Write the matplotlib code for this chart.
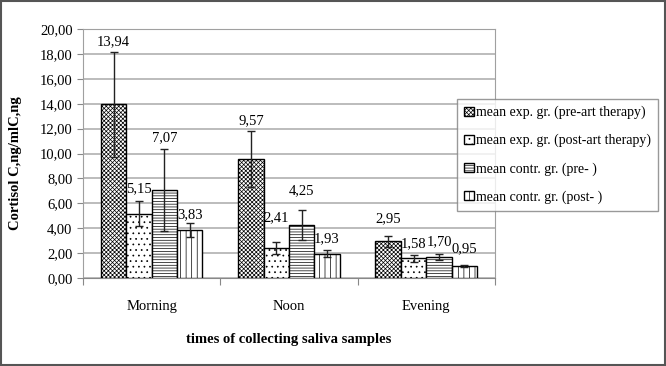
import numpy as np
import matplotlib.pyplot as plt

# Data
times = ['Morning', 'Noon', 'Evening']
series_names = ['mean exp. gr. (pre-art therapy)',
                'mean exp. gr. (post-art therapy)',
                'mean contr. gr. (pre- )',
                'mean contr. gr. (post- )']
exp_pre = [13.94, 9.57, 2.95]
exp_post = [5.15, 2.41, 1.58]
contr_pre = [7.07, 4.25, 1.70]
contr_post = [3.83, 1.93, 0.95]
err_exp_pre = [4.2, 2.25, 0.45]
err_exp_post = [1.0, 0.45, 0.28]
err_contr_pre = [3.3, 1.2, 0.23]
err_contr_post = [0.55, 0.28, 0.06]
value_labels = [['13,94', '9,57', '2,95'],
                ['5,15', '2,41', '1,58'],
                ['7,07', '4,25', '1,70'],
                ['3,83', '1,93', '0,95']]
# how far above the bar each value label sits (data units)
label_lift = [[5.0, 3.1, 1.8],
              [2.05, 2.4, 1.2],
              [4.2, 2.8, 1.2],
              [1.25, 1.25, 1.4]]

plt.rcParams['font.family'] = ['Liberation Serif', 'DejaVu Serif']
plt.rcParams['hatch.linewidth'] = 0.5

values = [exp_pre, exp_post, contr_pre, contr_post]
errors = [err_exp_pre, err_exp_post, err_contr_pre, err_contr_post]
hatches = ['xxxxxxxx', '...', '------', '|||']

fig = plt.figure(figsize=(6.66, 3.66), dpi=100)
ax = fig.add_axes([0.1246, 0.2404, 0.6186, 0.6804])

x = np.arange(len(times))
w = 0.185
handles = []
for i in range(4):
    pos = x - 1.5 * w + i * w
    b = ax.bar(pos, values[i], w, color='white', edgecolor='black',
               hatch=hatches[i], linewidth=1.0, label=series_names[i], zorder=3)
    ax.errorbar(pos, values[i], yerr=errors[i], fmt='none', ecolor='#222222',
                elinewidth=1.0, capsize=3, capthick=1.0, zorder=4)
    handles.append(b)
    for j in range(len(times)):
        ax.text(pos[j], values[i][j] + label_lift[i][j], value_labels[i][j],
                ha='center', va='center', fontsize=10.5, zorder=5)

ax.set_xlim(-0.5, 2.5)
ax.set_ylim(0, 20)
ticks = np.arange(0, 21, 2)
ax.set_yticks(ticks)
ax.set_yticklabels([('%.2f' % v).replace('.', ',') for v in ticks])
ax.yaxis.grid(True, color='#b0b0b0', linewidth=1.2, zorder=0)
ax.set_axisbelow(True)
ax.set_xticks([-0.5, 0.5, 1.5, 2.5])
ax.set_xticklabels([])
ax.set_xticks(x, minor=True)
ax.set_xticklabels(times, minor=True, fontsize=10.5)
ax.tick_params(axis='x', which='minor', length=0, pad=16)
ax.tick_params(axis='x', which='major', length=5, direction='out', color='#888888')
ax.tick_params(axis='y', length=4, labelsize=10.5, color='#888888')
for s in ['top', 'right', 'left']:
    ax.spines[s].set_color('#a0a0a0')
ax.spines['bottom'].set_color('#888888')

ax.set_ylabel('Cortisol C,ng/mlC,ng', fontsize=10.5, fontweight='bold')
ax.yaxis.set_label_coords(-0.148, 0.46)
ax.set_xlabel('times of collecting saliva samples', fontsize=10.5,
              fontweight='bold', labelpad=14)

leg = fig.legend(handles=handles, loc='upper left',
                 bbox_to_anchor=(457 / 666, 1 - 99 / 366),
                 fontsize=10, frameon=True, fancybox=False, edgecolor='#808080',
                 handlelength=0.7, handleheight=0.7, handletextpad=0.2,
                 borderpad=0.5, labelspacing=1.05, borderaxespad=0)
leg.get_frame().set_linewidth(1.0)

fig.patches.append(plt.Rectangle((0.002, 0.003), 0.996, 0.994, transform=fig.transFigure,
                                 fill=False, edgecolor='#555555', linewidth=1.5))

fig.savefig('out.png', dpi=100)
